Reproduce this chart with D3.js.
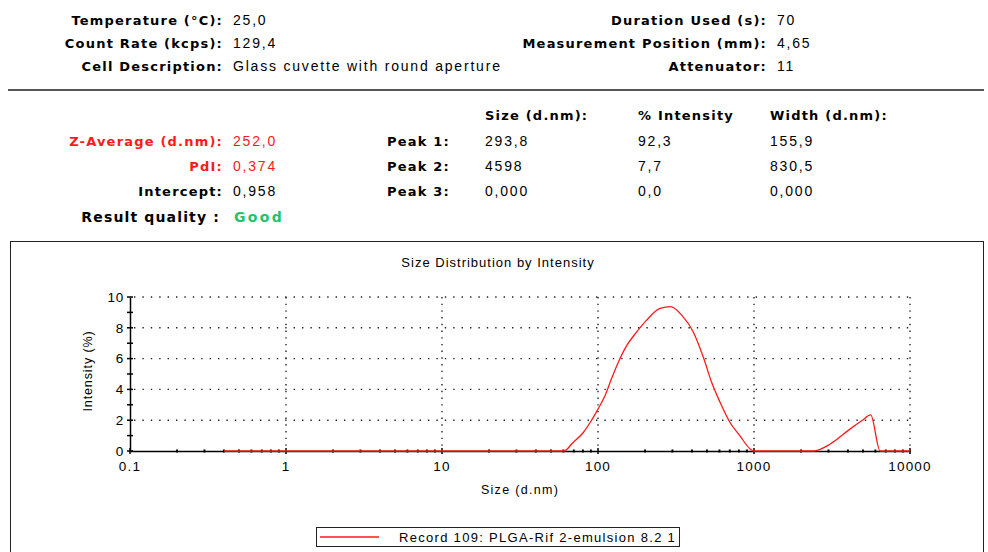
<!DOCTYPE html>
<html>
<head>
<meta charset="utf-8">
<script src="https://cdn.jsdelivr.net/npm/d3@7"></script>
<style>
  html, body { margin: 0; padding: 0; background: #fff; }
  svg { display: block; }
  text { font-family: "Liberation Sans", Arial, sans-serif; }
  text.b { font-family: "DejaVu Sans", Verdana, sans-serif; font-weight: bold; }
</style>
</head>
<body>
<svg id="chart" width="988" height="552"></svg>
<script>
// ---------- data ----------
const headerLeftLabels = ["Temperature (°C):", "Count Rate (kcps):", "Cell Description:"];
const headerLeftValues = ["25,0", "129,4", "Glass cuvette with round aperture"];
const headerRightLabels = ["Duration Used (s):", "Measurement Position (mm):", "Attenuator:"];
const headerRightValues = ["70", "4,65", "11"];

const resultLabels = ["Z-Average (d.nm):", "PdI:", "Intercept:"];
const resultValues = ["252,0", "0,374", "0,958"];
const resultColors = ["#ff1a1a", "#ff1a1a", "#000"];
const qualityLabel = "Result quality :";
const qualityValue = "Good";

const peakColumns = ["Size (d.nm):", "% Intensity", "Width (d.nm):"];
const peakNames = ["Peak 1:", "Peak 2:", "Peak 3:"];
const peakSizes = ["293,8", "4598", "0,000"];
const peakIntensities = ["92,3", "7,7", "0,0"];
const peakWidths = ["155,9", "830,5", "0,000"];

const chartTitle = "Size Distribution by Intensity";
const xAxisTitle = "Size (d.nm)";
const yAxisTitle = "Intensity (%)";
const xTicks = [0.1, 1, 10, 100, 1000, 10000];
const xTickLabels = ["0.1", "1", "10", "100", "1000", "10000"];
const yTicks = [0, 2, 4, 6, 8, 10];
const legendLabel = "Record 109: PLGA-Rif 2-emulsion 8.2 1";

// size (d.nm) and intensity (%)
const sizes = [0.4, 60.5, 69, 80.5, 89, 100, 111, 122, 135, 153, 177, 205, 250, 292, 344, 408, 473, 535, 606, 702, 813, 942, 1000,
               2400, 3070, 4120, 4900, 5600, 6430, 10000];
const intensities = [0, 0, 0.54, 1.2, 1.85, 2.72, 3.6, 4.69, 5.77, 6.86, 7.73, 8.5, 9.26, 9.37, 8.82, 7.73, 6.1, 4.46, 3.16, 1.85, 0.98, 0.15, 0,
                     0, 0.44, 1.42, 1.96, 2.35, 0, 0];

// ---------- drawing ----------
const svg = d3.select("#chart");
const black = "#000";

function label(g, x0, y0, t, anchor, bold, fill) {
  const el = g.append("text").attr("x", x0).attr("y", y0).attr("dy", "0.35em")
    .attr("text-anchor", anchor).attr("fill", fill || black).text(t);
  if (bold) el.attr("class", "b").attr("font-size", 13).attr("letter-spacing", 1.2);
  else el.attr("font-size", 14).attr("letter-spacing", 1.8);
  return el;
}

// header rows
const hdrY = [20, 43, 66];
const g1 = svg.append("g");
headerLeftLabels.forEach((t, i) => {
  label(g1, 223, hdrY[i], t, "end", true);
  label(g1, 233, hdrY[i], headerLeftValues[i], "start", false);
});
headerRightLabels.forEach((t, i) => {
  label(g1, 767, hdrY[i], t, "end", true);
  label(g1, 777, hdrY[i], headerRightValues[i], "start", false);
});

// separator rule
svg.append("line").attr("x1", 8).attr("x2", 984).attr("y1", 90).attr("y2", 90)
  .attr("stroke", "#555").attr("stroke-width", 2);

// results block
const resY = [141, 166, 191];
const g2 = svg.append("g");
resultLabels.forEach((t, i) => {
  label(g2, 223, resY[i], t, "end", true, resultColors[i]);
  label(g2, 233, resY[i], resultValues[i], "start", false, resultColors[i]);
});
g2.append("text").attr("class", "b").attr("x", 220).attr("y", 217).attr("dy", "0.35em").attr("text-anchor", "end")
  .attr("font-size", 14).attr("letter-spacing", 1.15).text(qualityLabel);
g2.append("text").attr("class", "b").attr("x", 234).attr("y", 217).attr("dy", "0.35em")
  .attr("font-size", 14).attr("letter-spacing", 2.3).attr("fill", "#1fc46a").text(qualityValue);

const colX = [485, 638, 770];
peakColumns.forEach((t, i) => {
  label(g2, colX[i], 115, t, "start", true);
});
peakNames.forEach((t, i) => {
  label(g2, 450, resY[i], t, "end", true);
  [peakSizes, peakIntensities, peakWidths].forEach((arr, j) => {
    label(g2, colX[j], resY[i], arr[i], "start", false);
  });
});

// chart frame
svg.append("rect").attr("x", 10.5).attr("y", 241.5).attr("width", 973).attr("height", 330)
  .attr("fill", "none").attr("stroke", "#222").attr("stroke-width", 1);

svg.append("text").attr("x", 498).attr("y", 262).attr("dy", "0.35em").attr("text-anchor", "middle")
  .attr("font-size", 13).attr("letter-spacing", 1.0).text(chartTitle);

// scales
const x = d3.scaleLog().domain([0.1, 10000]).range([130, 910]);
const y = d3.scaleLinear().domain([0, 10]).range([451, 297]);

// grid
const grid = svg.append("g").attr("stroke", "#222").attr("stroke-width", 1.4);
yTicks.filter(v => v > 0).forEach(v => {
  grid.append("line").attr("x1", x(0.1) + 4).attr("x2", x(10000)).attr("y1", y(v)).attr("y2", y(v))
    .attr("stroke-dasharray", "1.4,7");
});
xTicks.filter(v => v > 0.1).forEach(v => {
  grid.append("line").attr("x1", x(v)).attr("x2", x(v)).attr("y1", y(10)).attr("y2", y(0))
    .attr("stroke-dasharray", "1.4,5.3");
});

// x axis
const xAxisG = svg.append("g").attr("transform", `translate(0,${y(0)})`);
xAxisG.call(d3.axisBottom(x).tickValues([]).tickSizeOuter(0));
xAxisG.select(".domain").attr("stroke", black).attr("stroke-width", 1.5);
const minorX = [];
for (let d = 0.1; d < 10000; d *= 10) for (let k = 2; k <= 9; k++) minorX.push(d * k);
xAxisG.selectAll(".minor").data(minorX).enter().append("line")
  .attr("x1", d => x(d)).attr("x2", d => x(d)).attr("y1", -1.5).attr("y2", 1.5)
  .attr("stroke", black).attr("stroke-width", 2);
xAxisG.selectAll(".major").data(xTicks).enter().append("line")
  .attr("x1", d => x(d)).attr("x2", d => x(d)).attr("y1", -3).attr("y2", 3)
  .attr("stroke", black).attr("stroke-width", 1.5);
xAxisG.selectAll(".lbl").data(xTicks).enter().append("text")
  .attr("x", d => x(d)).attr("y", 15).attr("dy", "0.35em").attr("text-anchor", "middle")
  .attr("font-size", 13.5).attr("letter-spacing", 1.2).attr("fill", black).text((d, i) => xTickLabels[i]);

// y axis
const yAxisG = svg.append("g").attr("transform", `translate(${x(0.1)},0)`);
yAxisG.call(d3.axisLeft(y).tickValues([]).tickSizeOuter(0));
yAxisG.select(".domain").attr("stroke", black).attr("stroke-width", 1.5);
const allY = d3.range(0, 11);
yAxisG.selectAll(".yt").data(allY).enter().append("line")
  .attr("x1", -3).attr("x2", 3).attr("y1", d => y(d)).attr("y2", d => y(d))
  .attr("stroke", black).attr("stroke-width", 1.5);
yAxisG.selectAll(".yl").data(yTicks).enter().append("text")
  .attr("x", -6).attr("y", d => y(d)).attr("dy", "0.35em").attr("text-anchor", "end")
  .attr("font-size", 13.5).attr("letter-spacing", 0.8).attr("fill", black).text(d => d);

// axis titles
svg.append("text").attr("x", 520).attr("y", 490).attr("dy", "0.35em").attr("text-anchor", "middle")
  .attr("font-size", 12.5).attr("letter-spacing", 1.3).text(xAxisTitle);
svg.append("text").attr("transform", "translate(88,371) rotate(-90)").attr("dy", "0.35em")
  .attr("text-anchor", "middle").attr("font-size", 12.5).attr("letter-spacing", 0.9).text(yAxisTitle);

// curve
const pts = sizes.map((s, i) => [s, intensities[i]]);
const line = d3.line().x(d => x(d[0])).y(d => y(d[1])).curve(d3.curveMonotoneX);
svg.append("path").datum(pts).attr("d", line).attr("fill", "none")
  .attr("stroke", "#ff1a1a").attr("stroke-width", 1.3);

// legend
const lg = svg.append("g");
lg.append("rect").attr("x", 316.5).attr("y", 527.5).attr("width", 363).attr("height", 19)
  .attr("fill", "#fff").attr("stroke", "#222").attr("stroke-width", 1);
lg.append("line").attr("x1", 320).attr("x2", 379).attr("y1", 537).attr("y2", 537)
  .attr("stroke", "#ff1a1a").attr("stroke-width", 1.3);
lg.append("text").attr("x", 399).attr("y", 537).attr("dy", "0.35em").attr("font-size", 13)
  .attr("letter-spacing", 1.3).text(legendLabel);
</script>
</body>
</html>
